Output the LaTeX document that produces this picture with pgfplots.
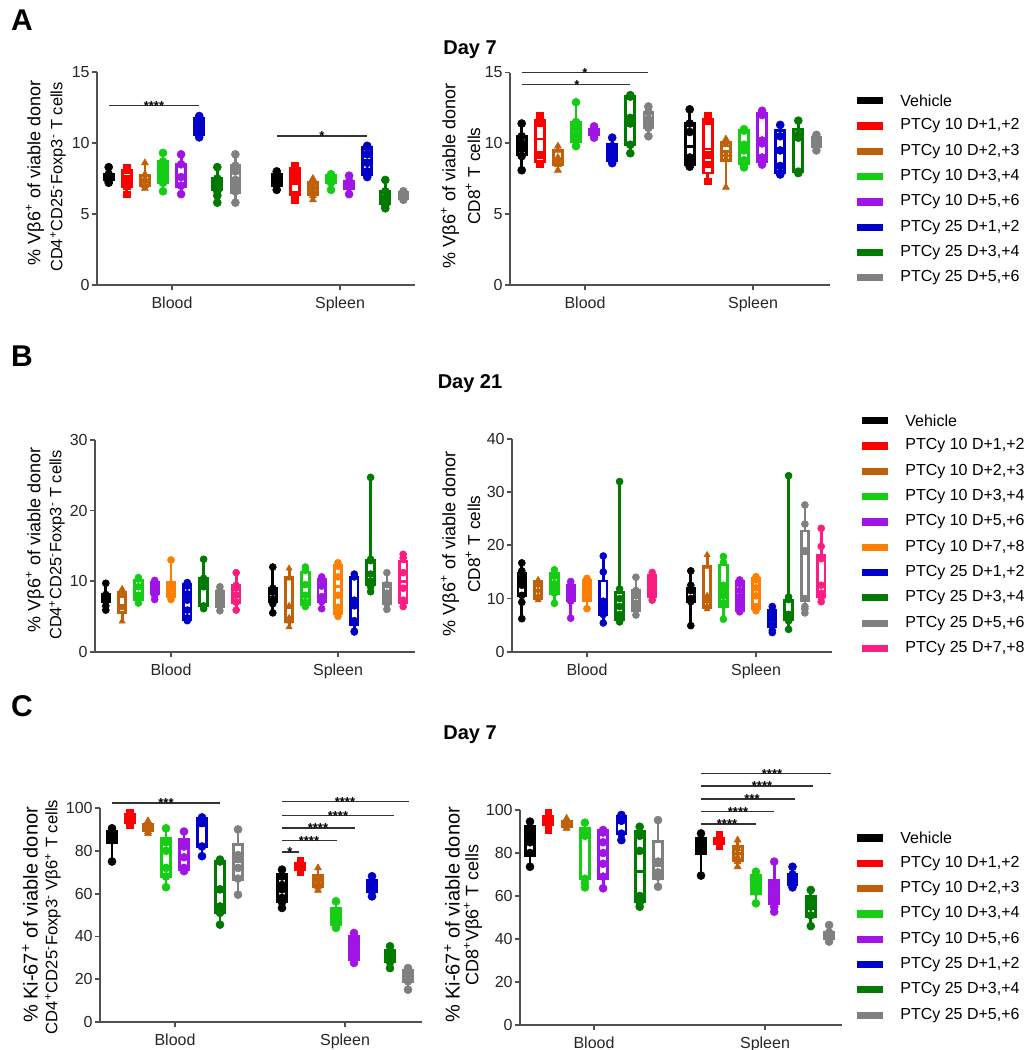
\documentclass[border=0pt]{standalone}
\usepackage{fontspec}
\setmainfont{Liberation Sans}
\usepackage{pgfplots}
\pgfplotsset{compat=1.18}
\newcommand\fs[2]{\fontsize{#1}{#2}\selectfont}
\definecolor{cblk}{RGB}{0,0,0}
\definecolor{cred}{RGB}{255,0,0}
\definecolor{cbrn}{RGB}{192,96,8}
\definecolor{clgr}{RGB}{20,205,20}
\definecolor{cpur}{RGB}{160,20,230}
\definecolor{cblu}{RGB}{0,0,200}
\definecolor{cdgr}{RGB}{0,122,0}
\definecolor{cgry}{RGB}{128,128,128}
\definecolor{corg}{RGB}{255,128,0}
\definecolor{cpnk}{RGB}{250,30,130}
\definecolor{axc}{RGB}{80,80,80}
\pgfplotsset{
 sBk/.style={color=cblk, mark=*},
 sRd/.style={color=cred, mark=square*, mark size=1.6pt},
 sBr/.style={color=cbrn, mark=triangle*},
 sLg/.style={color=clgr, mark=*},
 sPu/.style={color=cpur, mark=*},
 sBl/.style={color=cblu, mark=*},
 sDg/.style={color=cdgr, mark=*},
 sGy/.style={color=cgry, mark=*},
 sOr/.style={color=corg, mark=*},
 sPk/.style={color=cpnk, mark=*},
 base/.style={scale only axis, axis lines*=left, ymin=0, clip=false,
   axis line style={line width=0.9pt, color=axc, -},
   every tick/.style={line width=0.9pt, color=axc},
   tick align=outside, major tick length=2.5pt,
   tick label style={font=\fs{8}{9}, color=black!85},
   yticklabel style={inner sep=1pt},
   /pgf/number format/assume math mode=true,
   anchor=south west},
}
\def\bxe{9}\def\ms{2pt}\def\blw{1.4pt}
\newcommand\bx[8]{%
 \pgfmathsetmacro\xl{#1-\bxe/2}\pgfmathsetmacro\xr{#1+\bxe/2}%
 \edef\doit{%
  \noexpand\addplot[forget plot, #2, line width=\blw, no markers] coordinates {(#1,#3)(#1,#4)};
  \noexpand\addplot[forget plot, #2, line width=\blw, no markers] coordinates {(#1,#6)(#1,#7)};
  \noexpand\addplot[forget plot, #2, fill=white, line width=\blw, no markers, line join=miter] coordinates {(\xl,#4)(\xr,#4)(\xr,#6)(\xl,#6)} -- cycle;
  \noexpand\addplot[forget plot, #2, line width=\blw, no markers] coordinates {(\xl,#5)(\xr,#5)};
 }\doit
 \addplot[forget plot, mark size=\ms, #2, only marks, mark options={solid, line width=0.3pt}] table[header=false, x expr=#1, y index=0, row sep=\\] {#8};
}
\newcommand\sig[5]{%
 \addplot[forget plot, black!80, line width=0.6pt] coordinates {(#1,#4)(#2,#4)};
 \node[font=\fs{6.5}{7}\bfseries, anchor=base, inner sep=0pt, yshift=-2.4pt] at (axis cs:#3,#4) {#5};
}
\newcommand\lgd[4]{%
 \fill[#3] (#1,#2-3.6) rectangle (#1+26,#2+3.6);
 \node[anchor=west, inner sep=0pt, font=\fs{8}{9}] at (#1+43,#2) {#4};
}
\newcommand\yl[4]{\node[rotate=90, inner sep=0pt, font=\fs{#3}{#3}] at (#1,#2) {#4};}
\newcommand\sps[1]{\textsuperscript{#1}}
\begin{document}
\begin{tikzpicture}
\useasboundingbox (0pt,0pt) rectangle (515.5pt,-525pt);
\begin{scope}[x=0.5pt,y=-0.5pt]
\node[font=\fs{15}{16}\bfseries] at (22,20) {A};
\node[font=\fs{15}{16}\bfseries] at (22,356) {B};
\node[font=\fs{15}{16}\bfseries] at (22,706) {C};
\node[font=\fs{10}{11}\bfseries] at (470,50) {Day 7};
\node[font=\fs{10}{11}\bfseries] at (470,384) {Day 21};
\node[font=\fs{10}{11}\bfseries] at (470,735) {Day 7};
% y labels
\yl{35}{173}{9}{\% Vβ6\sps{+} of viable donor}
\yl{58}{177}{8.2}{CD4\sps{+}CD25\sps{-}Foxp3\sps{-} T cells}
\yl{450}{176}{9}{\% Vβ6\sps{+} of viable donor}
\yl{473}{176}{8.6}{CD8\sps{+} T cells}
\yl{35}{540}{9}{\% Vβ6\sps{+} of viable donor}
\yl{57}{545}{8.2}{CD4\sps{+}CD25\sps{-}Foxp3\sps{-} T cells}
\yl{450}{544}{9}{\% Vβ6\sps{+} of viable donor}
\yl{473}{544}{8.6}{CD8\sps{+} T cells}
\yl{30}{915}{10}{\% Ki-67\sps{+} of viable donor}
\yl{53}{917}{8.3}{CD4\sps{+}CD25\sps{-}Foxp3\sps{-} Vβ6\sps{+} T cells}
\yl{452}{915}{10}{\% Ki-67\sps{+} of viable donor}
\yl{473}{915}{9}{CD8\sps{+}Vβ6\sps{+} T cells}
% legend A
\lgd{857}{100.7}{cblk}{Vehicle}
\lgd{857}{126.0}{cred}{PTCy 10 D+1,+2}
\lgd{857}{151.3}{cbrn}{PTCy 10 D+2,+3}
\lgd{857}{176.6}{clgr}{PTCy 10 D+3,+4}
\lgd{857}{201.9}{cpur}{PTCy 10 D+5,+6}
\lgd{857}{227.2}{cblu}{PTCy 25 D+1,+2}
\lgd{857}{252.5}{cdgr}{PTCy 25 D+3,+4}
\lgd{857}{277.8}{cgry}{PTCy 25 D+5,+6}
% legend B
\lgd{862}{420.7}{cblk}{Vehicle}
\lgd{862}{446.0}{cred}{PTCy 10 D+1,+2}
\lgd{862}{471.3}{cbrn}{PTCy 10 D+2,+3}
\lgd{862}{496.6}{clgr}{PTCy 10 D+3,+4}
\lgd{862}{521.9}{cpur}{PTCy 10 D+5,+6}
\lgd{862}{547.2}{corg}{PTCy 10 D+7,+8}
\lgd{862}{572.5}{cblu}{PTCy 25 D+1,+2}
\lgd{862}{597.8}{cdgr}{PTCy 25 D+3,+4}
\lgd{862}{623.1}{cgry}{PTCy 25 D+5,+6}
\lgd{862}{648.4}{cpnk}{PTCy 25 D+7,+8}
% legend C
\lgd{857}{838.0}{cblk}{Vehicle}
\lgd{857}{863.3}{cred}{PTCy 10 D+1,+2}
\lgd{857}{888.6}{cbrn}{PTCy 10 D+2,+3}
\lgd{857}{913.9}{clgr}{PTCy 10 D+3,+4}
\lgd{857}{939.2}{cpur}{PTCy 10 D+5,+6}
\lgd{857}{964.5}{cblu}{PTCy 25 D+1,+2}
\lgd{857}{989.8}{cdgr}{PTCy 25 D+3,+4}
\lgd{857}{1015.1}{cgry}{PTCy 25 D+5,+6}
\end{scope}

% ---------- A left ----------
\begin{axis}[base, at={(48.5pt,-142.5pt)}, width=159pt, height=106.5pt,
  xmin=97, xmax=415, ymax=15, ytick={0,5,10,15}, xtick={172,340}, xticklabels={Blood,Spleen}]
\bx{108.7}{sBk}{7.2}{7.4}{7.6}{7.8}{8.3}{8.3\\7.8\\7.7\\7.6\\7.5\\7.3\\7.2\\}
\bx{126.8}{sRd}{6.4}{6.9}{7.4}{8.1}{8.3}{8.3\\8.2\\8.1\\7.5\\7.0\\6.4\\}
\bx{144.9}{sBr}{6.8}{7.0}{7.3}{7.7}{8.6}{8.6\\7.8\\7.5\\7.3\\7.0\\6.8\\}
\bx{163.0}{sLg}{6.6}{7.2}{8.0}{8.7}{9.3}{9.3\\8.7\\8.3\\8.0\\7.6\\7.2\\6.6\\}
\bx{181.1}{sPu}{6.4}{6.9}{7.6}{8.5}{9.2}{9.2\\8.5\\7.6\\7.0\\6.4\\}
\bx{199.2}{sBl}{10.4}{10.6}{11.0}{11.7}{11.9}{11.9\\11.8\\11.6\\11.2\\10.9\\10.6\\10.4\\}
\bx{217.3}{sDg}{5.8}{6.7}{7.0}{7.5}{8.3}{8.3\\7.5\\7.3\\7.0\\6.6\\6.3\\5.8\\}
\bx{235.4}{sGy}{5.8}{6.5}{7.5}{8.4}{9.2}{9.2\\8.4\\8.0\\7.4\\7.0\\6.6\\5.8\\}
\bx{276.7}{sBk}{6.7}{7.0}{7.4}{7.8}{8.0}{8.0\\7.8\\7.6\\7.4\\7.2\\7.0\\6.7\\}
\bx{294.8}{sRd}{6.0}{6.4}{7.3}{8.2}{8.4}{8.4\\8.2\\7.8\\7.3\\6.4\\6.0\\}
\bx{312.9}{sBr}{6.0}{6.4}{6.8}{7.2}{7.5}{7.5\\7.2\\7.0\\6.8\\6.6\\6.3\\6.0\\}
\bx{331.0}{sLg}{6.7}{7.2}{7.5}{7.7}{7.8}{7.8\\7.7\\7.6\\7.4\\7.2\\6.7\\}
\bx{349.1}{sPu}{6.4}{6.8}{7.1}{7.3}{7.7}{7.7\\7.3\\7.1\\6.9\\6.4\\}
\bx{367.2}{sBl}{7.6}{7.8}{8.8}{9.7}{9.8}{9.8\\9.7\\9.2\\8.6\\8.0\\7.7\\7.6\\}
\bx{385.3}{sDg}{5.4}{5.7}{6.1}{6.6}{7.4}{7.4\\6.6\\6.1\\5.8\\5.6\\5.4\\}
\bx{403.4}{sGy}{6.0}{6.1}{6.3}{6.5}{6.6}{6.6\\6.5\\6.3\\6.2\\6.0\\}
\sig{108.7}{199.2}{154}{12.65}{****}
\sig{276.7}{367.2}{322}{10.5}{*}
\end{axis}

% ---------- A right ----------
\begin{axis}[base, at={(255pt,-142.5pt)}, width=160pt, height=106.25pt,
  xmin=510, xmax=830, ymax=15, ytick={0,5,10,15}, xtick={585,753}, xticklabels={Blood,Spleen}]
\bx{521.7}{sBk}{8.1}{9.2}{9.8}{10.5}{11.4}{11.4\\10.5\\10.0\\9.8\\9.6\\9.1\\8.1\\}
\bx{539.8}{sRd}{8.5}{8.7}{10.3}{11.6}{12.0}{12.0\\11.7\\11.4\\9.2\\8.6\\8.5\\}
\bx{557.9}{sBr}{8.1}{8.5}{8.9}{9.5}{9.8}{9.8\\9.5\\9.0\\8.8\\8.5\\8.1\\}
\bx{576.0}{sLg}{9.8}{10.1}{10.7}{11.5}{12.9}{12.9\\11.5\\11.1\\10.6\\10.2\\9.8\\}
\bx{594.1}{sPu}{10.4}{10.6}{10.8}{11.0}{11.2}{11.2\\11.0\\10.8\\10.7\\10.4\\}
\bx{612.2}{sBl}{8.6}{8.8}{9.3}{9.9}{10.4}{10.4\\9.8\\9.5\\9.2\\8.9\\8.6\\}
\bx{630.3}{sDg}{9.3}{9.9}{11.5}{13.3}{13.4}{13.4\\13.3\\11.8\\11.4\\9.9\\9.3\\}
\bx{648.4}{sGy}{10.5}{11.1}{11.6}{12.2}{12.6}{12.6\\12.2\\11.7\\11.4\\11.1\\10.5\\}
\bx{689.7}{sBk}{8.35}{8.5}{9.8}{11.4}{12.4}{12.4\\11.4\\10.8\\9.0\\8.6\\8.35\\}
\bx{707.8}{sRd}{7.3}{7.9}{9.6}{11.7}{12.0}{12.0\\11.8\\11.6\\9.2\\8.5\\7.3\\}
\bx{725.9}{sBr}{6.9}{8.8}{9.4}{10.1}{10.3}{10.3\\10.1\\9.9\\9.2\\8.9\\6.9\\}
\bx{744.0}{sLg}{8.3}{8.6}{9.5}{10.9}{11.0}{11.0\\10.9\\9.9\\9.5\\8.8\\8.5\\8.3\\}
\bx{762.1}{sPu}{8.5}{8.7}{10.0}{12.1}{12.3}{12.3\\12.1\\12.0\\10.2\\10.0\\9.0\\8.7\\8.5\\}
\bx{780.2}{sBl}{7.8}{7.9}{9.4}{10.9}{11.3}{11.3\\10.5\\9.5\\8.4\\7.9\\7.8\\}
\bx{798.3}{sDg}{7.9}{8.0}{10.5}{11.0}{11.6}{11.6\\10.6\\10.4\\8.0\\7.9\\}
\bx{816.4}{sGy}{9.5}{9.8}{10.2}{10.4}{10.6}{10.6\\10.4\\10.2\\10.0\\9.5\\}
\sig{521.7}{648.4}{585}{15.0}{*}
\sig{521.7}{630.3}{577}{14.15}{*}
\end{axis}

% ---------- B left ----------
\def\bxe{7.5}\def\ms{1.75pt}
\begin{axis}[base, at={(47.5pt,-325.85pt)}, width=160pt, height=105.85pt,
  xmin=95, xmax=415, ymax=30, ytick={0,10,20,30}, xtick={171,338}, xticklabels={Blood,Spleen}]
\bx{105.8}{sBk}{5.9}{7.1}{7.6}{8.1}{9.7}{9.7\\8.1\\7.8\\7.5\\7.2\\6.5\\5.9\\}
\bx{122.1}{sBr}{4.3}{5.5}{6.5}{8.4}{8.9}{8.9\\8.4\\7.9\\6.2\\4.3\\}
\bx{138.4}{sLg}{6.9}{7.4}{8.2}{10.1}{10.5}{10.5\\10.3\\9.2\\8.0\\7.5\\6.9\\}
\bx{154.7}{sPu}{7.4}{8.2}{9.1}{9.8}{10.1}{10.1\\9.8\\9.5\\9.0\\8.6\\8.0\\7.4\\}
\bx{171.0}{sOr}{7.4}{7.8}{9.0}{9.8}{13.0}{13.0\\9.6\\9.3\\8.9\\8.2\\7.4\\}
\bx{187.3}{sBl}{4.4}{4.6}{6.2}{9.5}{9.8}{9.8\\9.3\\8.2\\7.3\\5.9\\4.8\\4.4\\}
\bx{203.6}{sDg}{6.1}{6.5}{9.8}{10.4}{13.1}{13.1\\10.4\\10.0\\9.2\\6.5\\6.1\\}
\bx{219.9}{sGy}{5.8}{6.4}{7.5}{8.5}{9.2}{9.2\\8.7\\8.0\\7.4\\6.9\\6.5\\5.8\\}
\bx{236.2}{sPk}{5.9}{7.0}{8.3}{9.4}{11.2}{11.2\\9.4\\9.0\\8.0\\7.0\\5.9\\}
\bx{272.8}{sBk}{5.5}{7.1}{8.3}{9.0}{12.0}{12.0\\9.0\\8.6\\7.5\\6.8\\5.5\\}
\bx{289.1}{sBr}{3.5}{4.2}{6.2}{10.5}{11.8}{11.8\\10.4\\6.5\\4.8\\4.3\\3.5\\}
\bx{305.4}{sLg}{6.4}{6.7}{8.1}{11.3}{12.0}{12.0\\11.5\\9.5\\8.0\\7.0\\6.4\\}
\bx{321.7}{sPu}{6.1}{7.1}{7.9}{10.3}{10.6}{10.6\\10.2\\9.3\\7.8\\7.1\\6.1\\}
\bx{338.0}{sOr}{5.0}{5.4}{9.2}{12.2}{12.6}{12.6\\12.1\\10.6\\8.0\\6.3\\5.4\\5.0\\}
\bx{354.3}{sBl}{2.8}{3.8}{6.7}{10.6}{11.0}{11.0\\10.6\\7.3\\6.5\\4.4\\2.9\\2.8\\}
\bx{370.6}{sDg}{8.5}{9.5}{11.3}{12.9}{24.7}{24.7\\13.1\\12.9\\11.0\\10.0\\9.2\\8.5\\}
\bx{386.9}{sGy}{6.0}{6.8}{8.0}{9.7}{11.2}{11.2\\9.5\\8.3\\7.8\\7.3\\6.8\\6.0\\}
\bx{403.2}{sPk}{6.4}{7.0}{10.0}{12.8}{13.8}{13.8\\13.3\\11.2\\9.0\\7.3\\6.4\\}
\end{axis}

% ---------- B right ----------
\begin{axis}[base, at={(256pt,-325.85pt)}, width=160pt, height=106.35pt,
  xmin=512, xmax=832, ymax=40, ytick={0,10,20,30,40}, xtick={587,756}, xticklabels={Blood,Spleen}]
\bx{521.8}{sBk}{6.2}{10.5}{13.2}{14.8}{16.7}{16.7\\15.2\\14.0\\12.5\\10.6\\9.3\\6.2\\}
\bx{538.1}{sBr}{9.7}{9.9}{11.5}{13.2}{13.5}{13.5\\13.2\\12.5\\11.5\\10.5\\9.7\\}
\bx{554.4}{sLg}{9.1}{11.0}{12.4}{14.7}{15.4}{15.4\\14.2\\12.8\\12.0\\11.0\\9.1\\}
\bx{570.7}{sPu}{6.3}{9.7}{11.0}{12.5}{13.2}{13.2\\12.5\\11.5\\10.5\\9.5\\6.3\\}
\bx{587.0}{sOr}{8.1}{9.7}{12.0}{13.5}{13.8}{13.8\\13.0\\12.0\\11.5\\10.5\\8.1\\}
\bx{603.3}{sBl}{5.4}{7.0}{8.8}{13.3}{18.0}{18.0\\15.0\\9.5\\8.5\\8.0\\7.0\\5.4\\}
\bx{619.6}{sDg}{5.6}{6.0}{8.7}{11.2}{32.0}{32.0\\11.8\\10.0\\8.5\\7.0\\6.2\\5.6\\}
\bx{635.9}{sGy}{6.9}{7.8}{9.5}{11.6}{14.0}{14.0\\11.5\\10.5\\9.0\\8.0\\6.9\\}
\bx{652.2}{sPk}{9.7}{10.3}{12.0}{14.4}{14.9}{14.9\\13.5\\12.5\\11.5\\10.5\\9.7\\}
\bx{690.8}{sBk}{4.9}{9.4}{11.3}{11.9}{15.2}{15.2\\12.5\\11.5\\10.0\\9.4\\4.9\\}
\bx{707.1}{sBr}{8.0}{8.3}{10.0}{16.0}{18.2}{18.2\\16.0\\10.5\\9.5\\8.6\\8.0\\}
\bx{723.4}{sLg}{6.1}{8.5}{11.6}{16.3}{17.9}{17.9\\16.8\\12.5\\11.5\\10.5\\9.2\\6.1\\}
\bx{739.7}{sPu}{7.5}{7.8}{10.5}{13.2}{13.5}{13.5\\12.8\\11.5\\10.0\\9.0\\8.0\\7.5\\}
\bx{756.0}{sOr}{7.7}{8.2}{10.6}{13.8}{14.1}{14.1\\13.5\\12.0\\10.5\\8.5\\7.7\\}
\bx{772.3}{sBl}{3.6}{4.7}{6.5}{7.8}{8.5}{8.5\\7.8\\7.2\\6.2\\5.0\\4.0\\3.6\\}
\bx{788.6}{sDg}{4.2}{6.0}{7.3}{9.7}{33.1}{33.1\\10.3\\9.8\\7.0\\6.0\\5.8\\4.2\\}
\bx{804.9}{sGy}{7.3}{9.7}{18.5}{22.7}{27.6}{27.6\\24.0\\19.0\\10.0\\8.5\\8.0\\7.3\\}
\bx{821.2}{sPk}{9.4}{10.3}{12.5}{18.2}{23.2}{23.2\\19.8\\17.5\\12.5\\11.0\\10.2\\9.4\\}
\end{axis}

% ---------- C left ----------
\def\bxe{9}\def\ms{2pt}
\begin{axis}[base, at={(50pt,-511pt)}, width=161pt, height=107pt,
  xmin=100, xmax=422, ymax=100, ytick={0,20,40,60,80,100}, xtick={175,345}, xticklabels={Blood,Spleen}]
\bx{112}{sBk}{75}{84}{86.5}{89}{90.5}{90.5\\89\\87\\86\\85\\75\\}
\bx{130}{sRd}{92}{93}{95}{96.9}{98}{98\\96\\95\\94\\92\\}
\bx{148}{sBr}{88}{89.5}{91}{92.5}{94}{94\\92\\91\\90\\89\\88\\}
\bx{166}{sLg}{63}{68}{79}{86}{90.5}{90.5\\84\\80\\72\\68\\63\\}
\bx{184}{sPu}{70.5}{71.2}{82}{85.2}{89}{89\\84\\82\\77\\72\\70.5\\}
\bx{202}{sBl}{77.5}{81.8}{92}{95.3}{95.6}{95.6\\94\\93\\82\\77.5\\}
\bx{220}{sDg}{45.5}{51}{61}{75.1}{75.9}{75.9\\75\\62\\54\\51\\45.5\\}
\bx{238}{sGy}{59.5}{66.5}{75}{83}{90}{90\\78\\77\\72\\67\\59.5\\}
\bx{282}{sBk}{53.3}{56.4}{62}{68.8}{71.2}{71.2\\68\\64\\62\\58\\56\\53.3\\}
\bx{300}{sRd}{70}{71}{72.5}{74}{75.4}{75.4\\74\\73\\72\\71\\70\\}
\bx{318}{sBr}{61.5}{63.5}{66}{68.5}{72}{72\\68\\66.5\\65\\63\\61.5\\}
\bx{336}{sLg}{44}{45.5}{49}{53.3}{56.4}{56.4\\52\\50\\48\\46\\44\\}
\bx{354}{sPu}{27.6}{29}{34}{40}{41.6}{41.6\\38\\35\\33\\30\\27.6\\}
\bx{372}{sBl}{58.7}{61}{63.5}{66}{68.1}{68.1\\65\\64\\63\\61\\58.7\\}
\bx{390}{sDg}{25.2}{28}{31}{33.5}{35.4}{35.4\\33\\32\\30\\28\\25.2\\}
\bx{408}{sGy}{15.1}{19}{21}{24}{25.2}{25.2\\24\\22\\21\\19\\15.1\\}
\sig{112}{220}{166}{102.3}{***}
\sig{282}{409}{345}{103.1}{****}
\sig{282}{394}{338}{96.6}{****}
\sig{282}{355}{318}{90.7}{****}
\sig{282}{337}{309}{84.9}{****}
\sig{282}{299}{290}{79.4}{*}
\end{axis}

% ---------- C right ----------
\begin{axis}[base, at={(260pt,-512.5pt)}, width=161pt, height=107.5pt,
  xmin=520, xmax=842, ymax=100, ytick={0,20,40,60,80,100}, xtick={594,765}, xticklabels={Blood,Spleen}]
\bx{530.0}{sBk}{73.6}{79}{86}{92.2}{94.6}{94.6\\91\\88\\85\\80\\73.6\\}
\bx{548.3}{sRd}{90.7}{93}{95}{97}{98.8}{98.8\\97\\96\\95\\93\\90.7\\}
\bx{566.6}{sBr}{91.5}{92.3}{93}{94.5}{96.1}{96.1\\94\\93\\92.5\\91.5\\}
\bx{584.9}{sLg}{64}{68.2}{88}{91.5}{94.1}{94.1\\89\\88\\68\\66\\64\\}
\bx{603.1}{sPu}{63.6}{68.2}{80}{90.4}{90.7}{90.7\\89.5\\85\\80\\75\\69\\63.6\\}
\bx{621.4}{sBl}{86}{89.1}{95}{97.2}{97.7}{97.7\\96.5\\95\\89\\86\\}
\bx{639.7}{sDg}{55}{57.4}{71.5}{90}{92.2}{92.2\\88\\81\\60\\58\\57\\55\\}
\bx{658.0}{sGy}{64.3}{68.2}{74}{85.3}{95.3}{95.3\\76\\71\\69\\64.3\\}
\bx{701.0}{sBk}{69.5}{79.8}{84}{86.8}{89.1}{89.1\\86\\85\\84\\82\\69.5\\}
\bx{719.3}{sRd}{83}{84.5}{85.5}{87}{88.4}{88.4\\87\\86\\85\\84\\83\\}
\bx{737.6}{sBr}{73.6}{76.7}{80}{82.9}{86}{86\\82\\80\\78\\76\\73.6\\}
\bx{755.9}{sLg}{56.6}{61.2}{65}{69.8}{71.3}{71.3\\68\\65\\62\\56.6\\}
\bx{774.2}{sPu}{52.7}{56.6}{60}{67.4}{76}{76\\65.5\\63\\60\\58\\55\\52.7\\}
\bx{792.5}{sBl}{64}{65.5}{67}{70}{73.6}{73.6\\70\\68\\66.5\\65\\64\\}
\bx{810.8}{sDg}{46}{50.4}{55}{59.7}{62.8}{62.8\\58\\55\\51\\46\\}
\bx{829.1}{sGy}{38.8}{40}{41}{43}{46.5}{46.5\\43\\41.5\\40.5\\40\\38.8\\}
\sig{701}{831}{772}{117.1}{****}
\sig{701}{813}{762}{111.2}{****}
\sig{701}{795}{752}{105.1}{***}
\sig{701}{774}{738}{99.2}{****}
\sig{701}{756}{727}{93.5}{****}
\end{axis}
\end{tikzpicture}
\end{document}
